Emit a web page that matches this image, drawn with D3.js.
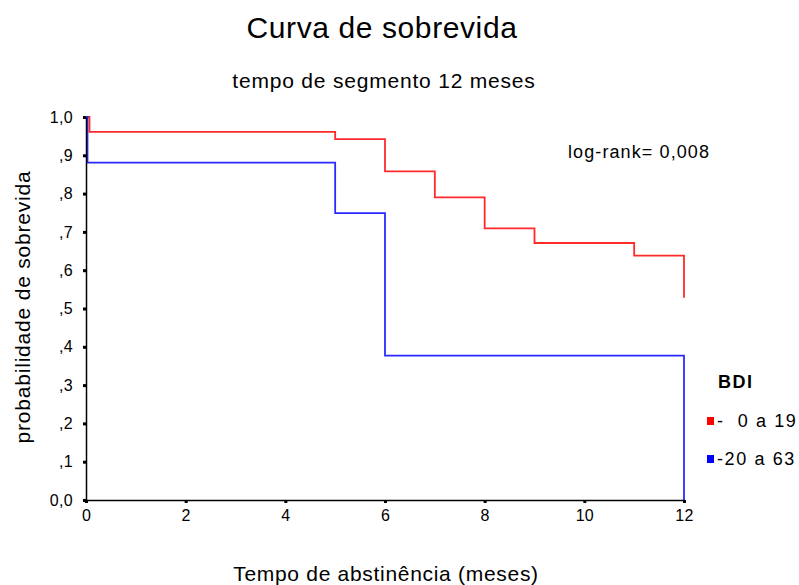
<!DOCTYPE html>
<html lang="pt">

<head>
    <meta charset="UTF-8">
    <script src="https://d3js.org/d3.v7.min.js"></script>
    <style>
        body { margin: 0; background: #fff; }
        text { font-family: "Liberation Sans", Arial, sans-serif; fill: #000; }
    </style>
    <title>Curva de sobrevida</title>
</head>

<body>
    <div class="canvas"></div>
    <script>
        // dados
        const grupos = ['0 a 19', '20 a 63']
        const legendaTxt = ['-  0 a 19', '-20 a 63']
        const cores = ['#ff2a2a', '#2a2aff']
        const tempoBaixo = [0, 0.07, 5, 6, 7, 8, 9, 11, 12]
        const sobrevBaixo = [1, 0.961, 0.942, 0.858, 0.790, 0.709, 0.671, 0.638, 0.528]
        const tempoAlto = [0, 0.03, 5, 6, 12]
        const sobrevAlto = [1, 0.881, 0.749, 0.377, 0]
        const xTicks = [0, 2, 4, 6, 8, 10, 12]
        const yTicks = [0, 0.1, 0.2, 0.3, 0.4, 0.5, 0.6, 0.7, 0.8, 0.9, 1.0]
        const yTickLabels = ['0,0', ',1', ',2', ',3', ',4', ',5', ',6', ',7', ',8', ',9', '1,0']

        const areaWidth = 799
        const areaHeight = 585
        const svg = d3.select('.canvas')
            .append('svg')
            .attr('width', areaWidth)
            .attr('height', areaHeight)

        const [ml, mt, gw, gh] = [86, 117, 598, 383]

        const x = d3.scaleLinear().domain([0, 12]).range([0, gw])
        const y = d3.scaleLinear().domain([0, 1]).range([gh, 0])

        const graph = svg.append('g')
            .attr('transform', `translate(${ml},${mt})`)

        const series = [
            tempoBaixo.map((t, i) => ({ t, s: sobrevBaixo[i] })),
            tempoAlto.map((t, i) => ({ t, s: sobrevAlto[i] }))
        ]

        const line = d3.line()
            .x(d => x(d.t))
            .y(d => y(d.s))
            .curve(d3.curveStepAfter)

        graph.selectAll('path.km')
            .data(series)
            .enter()
            .append('path')
            .attr('class', 'km')
            .attr('fill', 'none')
            .attr('stroke', (d, i) => cores[i])
            .attr('stroke-width', 1.8)
            .attr('d', d => line(d))

        // eixos
        const xAxisG = graph.append('g').attr('transform', `translate(0,${gh})`)
        xAxisG.call(d3.axisBottom(x).tickValues(xTicks).tickSize(0).tickPadding(10).tickFormat(d => d))
        const yAxisG = graph.append('g')
        yAxisG.call(d3.axisLeft(y).tickValues(yTicks).tickSize(0).tickPadding(13)
            .tickFormat((d, i) => yTickLabels[i]))

        svg.selectAll('.domain').attr('stroke', '#000').attr('stroke-width', 1.5)
        svg.selectAll('.tick text').style('font-size', '16px').style('letter-spacing', '0.3px').attr('fill', '#000')

        // marcas quadradas dos ticks
        xAxisG.selectAll('.tick').append('rect')
            .attr('x', -1.5).attr('y', 0).attr('width', 3).attr('height', 3).attr('fill', '#000')
        yAxisG.selectAll('.tick').append('rect')
            .attr('x', -3).attr('y', -1.5).attr('width', 3).attr('height', 3).attr('fill', '#000')

        // textos
        svg.append('text')
            .attr('x', 382).attr('y', 38)
            .attr('text-anchor', 'middle')
            .style('font-size', '30px')
            .style('letter-spacing', '0.6px')
            .text('Curva de sobrevida')

        svg.append('text')
            .attr('x', 384).attr('y', 88)
            .attr('text-anchor', 'middle')
            .style('font-size', '21px')
            .style('letter-spacing', '0.8px')
            .text('tempo de segmento 12 meses')

        svg.append('text')
            .attr('transform', 'translate(30,307) rotate(-90)')
            .attr('text-anchor', 'middle')
            .style('font-size', '21px')
            .style('letter-spacing', '0.8px')
            .text('probabilidade de sobrevida')

        svg.append('text')
            .attr('x', 386).attr('y', 581)
            .attr('text-anchor', 'middle')
            .style('font-size', '21px')
            .style('letter-spacing', '0.7px')
            .text('Tempo de abstinência (meses)')

        svg.append('text')
            .attr('x', 568).attr('y', 158)
            .style('font-size', '18px')
            .style('letter-spacing', '1.1px')
            .text('log-rank= 0,008')

        // legenda
        svg.append('text')
            .attr('x', 718).attr('y', 388)
            .style('font-size', '18px')
            .style('font-weight', 'bold')
            .style('letter-spacing', '1.5px')
            .text('BDI')

        const leg = svg.selectAll('g.leg')
            .data(grupos)
            .enter()
            .append('g')
            .attr('class', 'leg')
            .attr('transform', (d, i) => `translate(707,${417 + i * 38})`)
        leg.append('rect')
            .attr('x', 0).attr('y', 0).attr('width', 7).attr('height', 8)
            .attr('fill', (d, i) => i === 0 ? '#ff0000' : '#0000ff')
        leg.append('text')
            .attr('x', 10).attr('y', 10)
            .style('font-size', '18px')
            .style('letter-spacing', '1.6px')
            .style('white-space', 'pre')
            .text((d, i) => legendaTxt[i])
    </script>
</body>

</html>
